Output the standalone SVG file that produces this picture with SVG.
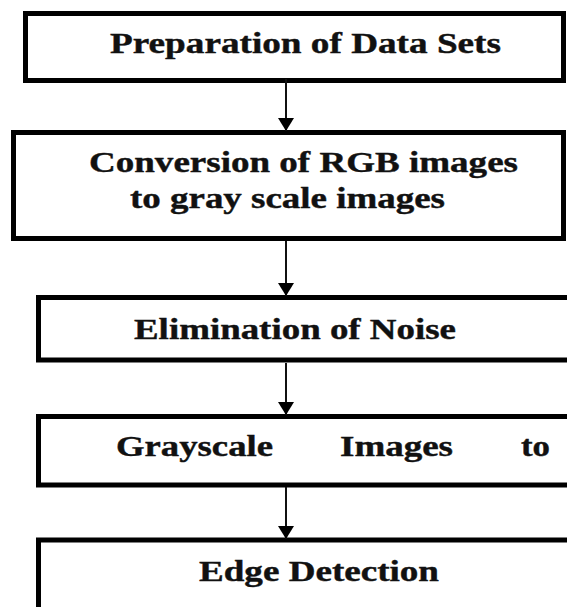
<svg xmlns="http://www.w3.org/2000/svg" width="567" height="607" viewBox="0 0 567 607">
  <style>
    .box { fill: #ffffff; stroke: #000000; stroke-width: 5; }
    .lbl { font-family: "Liberation Serif", "Times New Roman", serif; font-weight: bold; font-size: 29px; fill: #111111; stroke: #111111; stroke-width: 0.4; }
    .conn { stroke: #111111; stroke-width: 2; fill: none; marker-end: url(#arr); }
  </style>
  <defs>
    <marker id="arr" markerUnits="userSpaceOnUse" markerWidth="13" markerHeight="16" refX="13" refY="8" orient="auto">
      <path d="M0,0 L13,8 L0,16 Z" fill="#000000"/>
    </marker>
  </defs>
  <rect x="0" y="0" width="567" height="607" fill="#ffffff"/>

  <g id="node-preparation">
    <rect class="box" x="25.5" y="13.5" width="538" height="67"/>
    <text class="lbl" x="110" y="53" textLength="391" lengthAdjust="spacingAndGlyphs">Preparation of Data Sets</text>
  </g>

  <g id="node-conversion">
    <rect class="box" x="13.5" y="132.5" width="550" height="106"/>
    <text class="lbl" x="89" y="171.5" textLength="429" lengthAdjust="spacingAndGlyphs">Conversion of RGB images</text>
    <text class="lbl" x="130" y="208" textLength="315" lengthAdjust="spacingAndGlyphs">to gray scale images</text>
  </g>

  <g id="node-elimination">
    <rect class="box" x="38.5" y="297.5" width="560" height="62.5"/>
    <text class="lbl" x="134" y="338.5" textLength="322" lengthAdjust="spacingAndGlyphs">Elimination of Noise</text>
  </g>

  <g id="node-grayscale">
    <rect class="box" x="38.5" y="416.5" width="560" height="68.5"/>
    <text class="lbl" y="456"><tspan x="116" textLength="157" lengthAdjust="spacingAndGlyphs">Grayscale</tspan><tspan x="340" textLength="113" lengthAdjust="spacingAndGlyphs">Images</tspan><tspan x="521" textLength="29" lengthAdjust="spacingAndGlyphs">to</tspan></text>
  </g>

  <g id="node-edge">
    <rect class="box" x="38.5" y="540" width="560" height="100"/>
    <text class="lbl" x="199" y="581" textLength="240" lengthAdjust="spacingAndGlyphs">Edge Detection</text>
  </g>

  <g id="connectors">
    <line class="conn" x1="286" y1="79" x2="286" y2="131"/>
    <line class="conn" x1="286" y1="241" x2="286" y2="296"/>
    <line class="conn" x1="286" y1="363" x2="286" y2="415"/>
    <line class="conn" x1="286" y1="487" x2="286" y2="539"/>
  </g>
</svg>
